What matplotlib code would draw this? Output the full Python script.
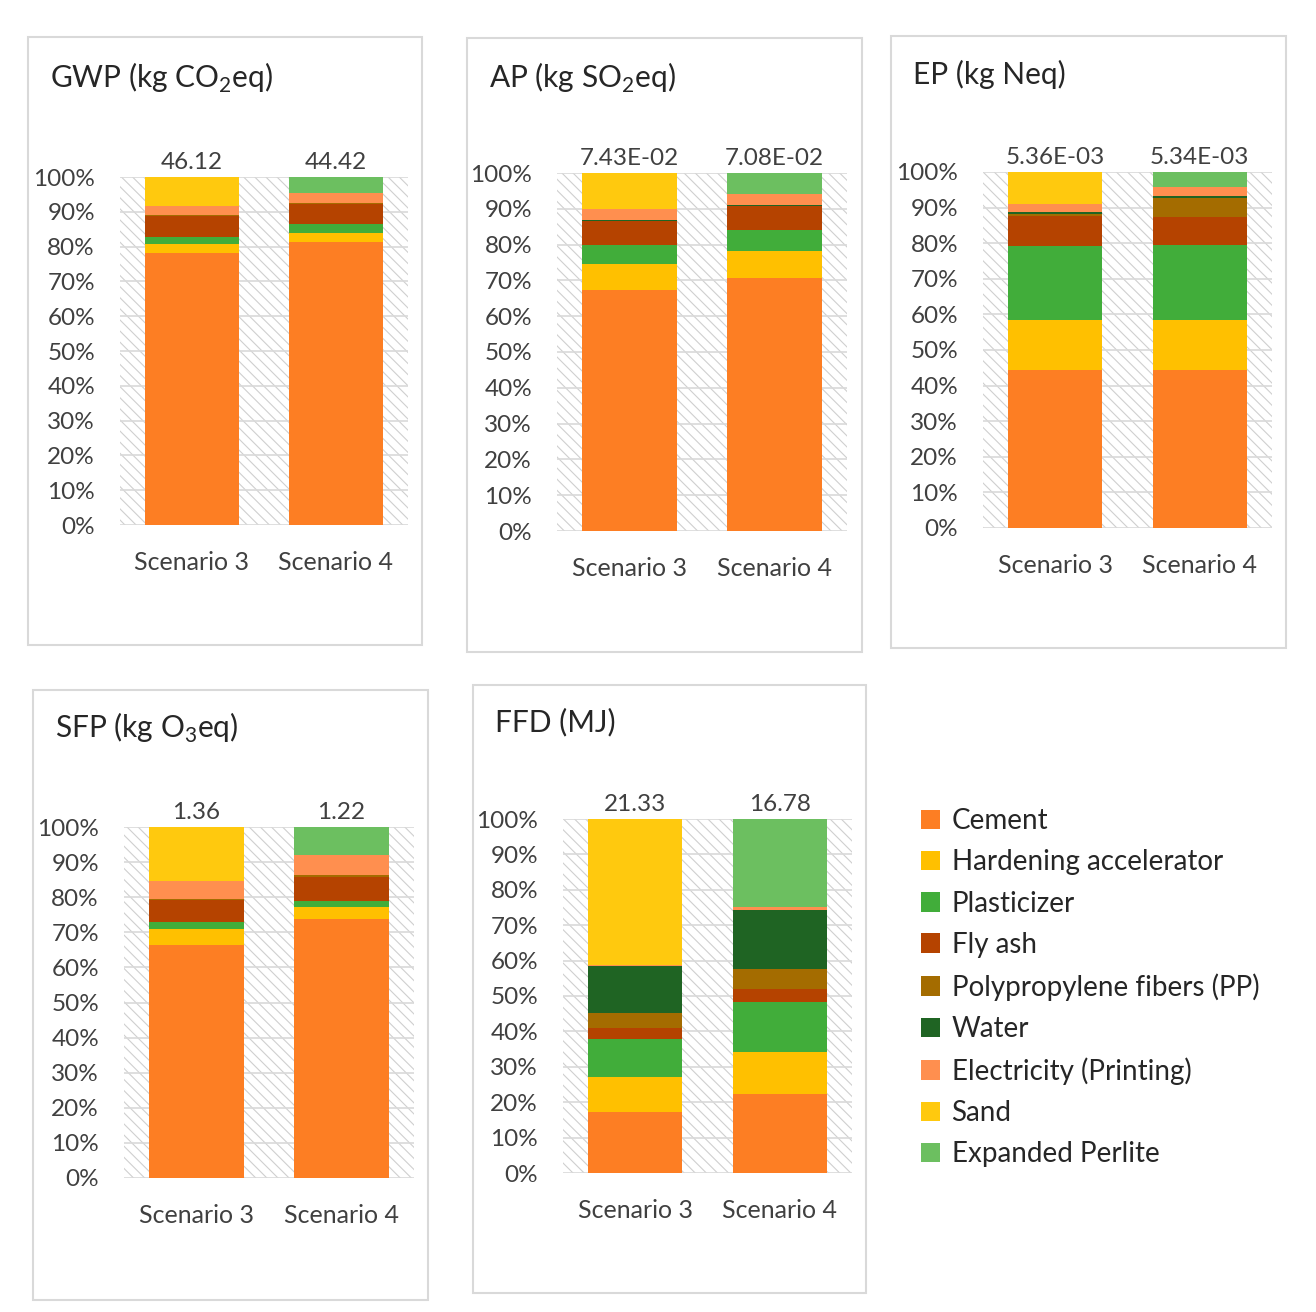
import matplotlib.pyplot as plt
from matplotlib.patches import Rectangle, Patch

plt.rcParams['font.family'] = ['Lato', 'DejaVu Sans']
plt.rcParams['mathtext.fontset'] = 'custom'
plt.rcParams['mathtext.rm'] = 'Lato'
plt.rcParams['hatch.linewidth'] = 0.8

W, H = 1316, 1312

scenarios = ["Scenario 3", "Scenario 4"]
components = ["Cement", "Hardening accelerator", "Plasticizer", "Fly ash",
              "Polypropylene fibers (PP)", "Water", "Electricity (Printing)",
              "Sand", "Expanded Perlite"]
colors = ['#FD7E23', '#FFC000', '#41AD3A', '#B54300', '#A46C00',
          '#1F6423', '#FF8F4F', '#FFC90E', '#6CBF60']

# shares in % (order = components)
gwp_s3 = [78.1, 2.7, 2.1, 5.9, 0.2, 0.1, 2.7, 8.2, 0.0]
gwp_s4 = [81.2, 2.7, 2.5, 5.8, 0.3, 0.1, 2.8, 0.0, 4.6]
ap_s3 = [67.4, 7.2, 5.3, 6.6, 0.2, 0.2, 3.0, 10.1, 0.0]
ap_s4 = [70.6, 7.5, 5.9, 6.7, 0.2, 0.1, 3.1, 0.0, 5.9]
ep_s3 = [44.5, 13.8, 20.9, 8.4, 0.5, 0.7, 2.2, 9.0, 0.0]
ep_s4 = [44.5, 14.0, 21.0, 8.0, 5.1, 0.7, 2.4, 0.0, 4.3]
sfp_s3 = [66.3, 4.7, 1.9, 6.2, 0.3, 0.1, 5.2, 15.3, 0.0]
sfp_s4 = [73.9, 3.2, 1.7, 6.9, 0.5, 0.1, 5.7, 0.0, 8.0]
ffd_s3 = [17.3, 9.9, 10.6, 3.3, 4.2, 13.2, 0.2, 41.3, 0.0]
ffd_s4 = [22.2, 11.9, 14.1, 3.9, 5.6, 16.6, 0.8, 0.0, 24.9]

# totals shown above the bars
gwp_tot = ["46.12", "44.42"]
ap_tot = ["7.43E-02", "7.08E-02"]
ep_tot = ["5.36E-03", "5.34E-03"]
sfp_tot = ["1.36", "1.22"]
ffd_tot = ["21.33", "16.78"]

titles = [r"GWP (kg CO$_\mathregular{2}$eq)", r"AP (kg SO$_\mathregular{2}$eq)",
          "EP (kg Neq)", r"SFP (kg O$_\mathregular{3}$eq)", "FFD (MJ)"]

panels = [
    # box, plot area, title pos (pixels)
    ((28, 37, 422, 645), (120, 177, 408, 525), (50, 78), gwp_s3, gwp_s4, gwp_tot),
    ((467, 38, 862, 652), (557, 173, 847, 531), (489, 78), ap_s3, ap_s4, ap_tot),
    ((891, 36, 1286, 648), (983, 172, 1272, 528), (913, 74), ep_s3, ep_s4, ep_tot),
    ((33, 690, 428, 1300), (124, 827, 414, 1178), (55, 728), sfp_s3, sfp_s4, sfp_tot),
    ((473, 685, 866, 1293), (563, 819, 852, 1173), (495, 722), ffd_s3, ffd_s4, ffd_tot),
]

fig = plt.figure(figsize=(W / 100, H / 100), dpi=100)

for k, (box, area, tpos, s3, s4, tot) in enumerate(panels):
    # chart frame
    fig.patches.append(Rectangle((box[0] / W, 1 - box[3] / H),
                                 (box[2] - box[0]) / W, (box[3] - box[1]) / H,
                                 transform=fig.transFigure, facecolor='none',
                                 edgecolor='#D9D9D9', linewidth=1.5, zorder=-1))
    fig.text(tpos[0] / W, 1 - tpos[1] / H, titles[k], fontsize=21.5,
             color='#262626', ha='left', va='center')

    ax = fig.add_axes([area[0] / W, 1 - area[3] / H,
                       (area[2] - area[0]) / W, (area[3] - area[1]) / H])
    ax.add_patch(Rectangle((0, 0), 1, 1, transform=ax.transAxes,
                           facecolor='white', edgecolor='#CFCFCF',
                           hatch='\\\\\\', linewidth=0, zorder=0))
    x = [0, 1]
    bottom = [0.0, 0.0]
    for i in range(len(components)):
        vals = [s3[i], s4[i]]
        ax.bar(x, vals, 0.65, bottom=bottom, color=colors[i], zorder=2)
        bottom = [bottom[0] + vals[0], bottom[1] + vals[1]]

    for i in range(2):
        ax.annotate(tot[i], (x[i], 100), xytext=(0, 3), textcoords='offset points',
                    ha='center', va='bottom', fontsize=17.5, color='#404040')

    ax.set_xlim(-0.5, 1.5)
    ax.set_ylim(0, 100)
    ax.set_yticks(range(0, 101, 10))
    ax.set_yticklabels([f"{v}%" for v in range(0, 101, 10)])
    ax.set_xticks(x)
    ax.set_xticklabels(scenarios)
    ax.yaxis.grid(True, color='#D9D9D9', linewidth=1.2)
    ax.set_axisbelow(True)
    for s in ax.spines.values():
        s.set_visible(False)
    ax.tick_params(axis='y', length=0, pad=18, labelsize=17.5, labelcolor='#404040')
    ax.tick_params(axis='x', length=0, pad=19, labelsize=18, labelcolor='#404040')

handles = [Patch(facecolor=c, label=n) for c, n in zip(colors, components)]
fig.legend(handles=handles, loc='upper left', bbox_to_anchor=(896 / W, 1 - 783 / H),
           frameon=False, fontsize=20, handlelength=0.7, handleheight=0.7,
           handletextpad=0.4, labelspacing=0.55, labelcolor='#262626')

fig.savefig("out.png", dpi=100)
